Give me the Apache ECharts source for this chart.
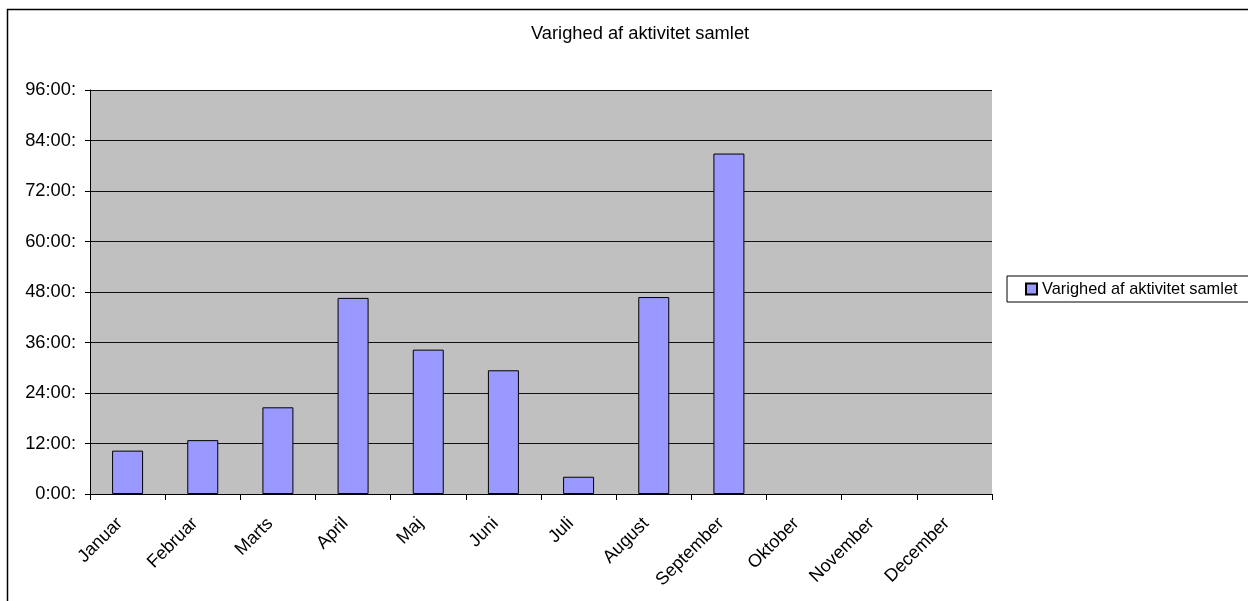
<!DOCTYPE html>
<html>
<head>
<meta charset="utf-8">
<script src="https://cdn.jsdelivr.net/npm/echarts@6/dist/echarts.min.js"></script>
<style>
html,body{margin:0;padding:0;background:#fff;}
#chart{width:1248px;height:601px;}
</style>
</head>
<body>
<div id="chart"></div>
<script>
var categories = ['Januar','Februar','Marts','April','Maj','Juni','Juli','August','September','Oktober','November','December'];
var durationHours = [10.3, 12.8, 20.6, 46.6, 34.3, 29.4, 4.1, 46.8, 80.9, null, null, null];
var yTicks = [0, 12, 24, 36, 48, 60, 72, 84, 96];
var seriesName = 'Varighed af aktivitet samlet';
var chartTitle = 'Varighed af aktivitet samlet';

var chart = echarts.init(document.getElementById('chart'), null, {renderer: 'canvas'});
var font = 'Liberation Sans, Arial, sans-serif';
chart.setOption({
  animation: false,
  backgroundColor: '#ffffff',
  graphic: [{
    type: 'rect',
    shape: {x: 7.5, y: 9.5, width: 1400, height: 800},
    style: {fill: 'none', stroke: '#000', lineWidth: 1.5},
    silent: true, z: -1
  }],
  title: {
    text: chartTitle,
    left: 531, top: 25, padding: 0,
    textStyle: {fontFamily: font, fontSize: 18.3, fontWeight: 'normal', color: '#000'}
  },
  legend: {
    data: [seriesName],
    left: 1007, top: 276,
    padding: [5, 30, 5, 18],
    backgroundColor: '#fff',
    borderColor: '#000', borderWidth: 1, borderRadius: 0,
    icon: 'rect', itemWidth: 11, itemHeight: 11,
    textStyle: {fontFamily: font, fontSize: 16.4, color: '#000'}
  },
  grid: {
    left: 90, right: 256, top: 90, bottom: 107,
    show: true, backgroundColor: '#c0c0c0', borderWidth: 0, containLabel: false
  },
  xAxis: {
    type: 'category',
    data: categories,
    boundaryGap: true,
    axisLine: {show: true, lineStyle: {color: '#000', width: 1}},
    axisTick: {show: true, interval: 0, alignWithLabel: false, length: 6, lineStyle: {color: '#000'}},
    axisLabel: {
      interval: 0, rotate: 45, margin: 19, align: 'right', padding: [0, 11, 0, 0],
      fontFamily: font, fontSize: 18, color: '#000'
    },
    splitLine: {show: false}
  },
  yAxis: {
    type: 'value',
    min: yTicks[0], max: yTicks[yTicks.length - 1], interval: 12,
    axisLine: {show: true, lineStyle: {color: '#000', width: 1}},
    axisTick: {show: true, length: 5, lineStyle: {color: '#000'}},
    axisLabel: {
      margin: 14, fontFamily: font, fontSize: 18.3, color: '#000',
      formatter: function (v) { return v + ':00:'; }
    },
    splitLine: {show: true, lineStyle: {color: '#111', width: 1}}
  },
  series: [{
    name: seriesName,
    type: 'bar',
    data: durationHours,
    barWidth: 31,
    itemStyle: {color: '#9999ff', borderColor: '#000', borderWidth: 1}
  }]
});
</script>
</body>
</html>
